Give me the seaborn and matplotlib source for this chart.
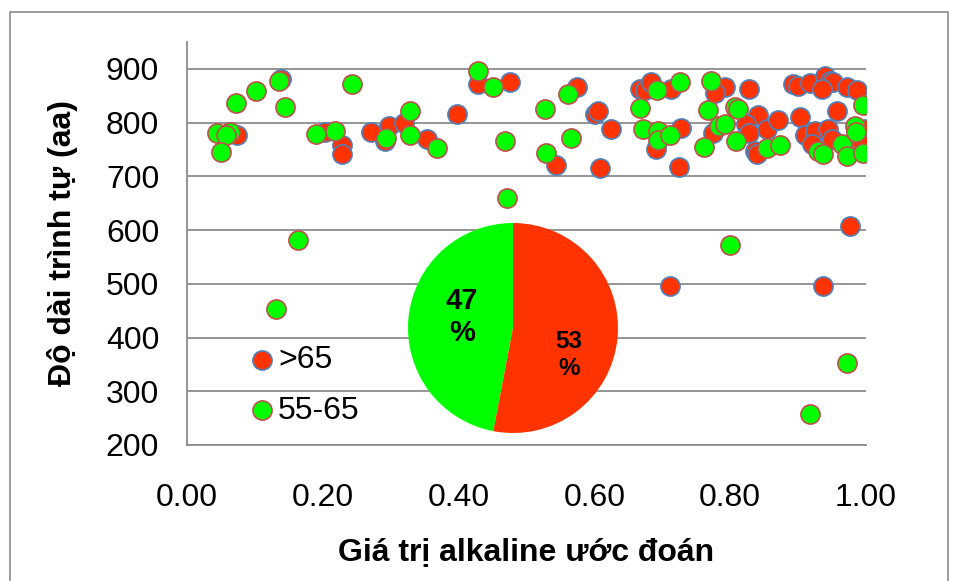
import matplotlib
matplotlib.use("Agg")
import matplotlib.pyplot as plt
from matplotlib.patches import Rectangle
import seaborn as sns
import pandas as pd

# Predicted alkaline value vs. sequence length, split by group
gt65_x = [0.073, 0.138, 0.203, 0.228, 0.228, 0.271, 0.292, 0.298, 0.319, 0.353,
          0.397, 0.428, 0.476, 0.544, 0.575, 0.601, 0.606, 0.608, 0.625, 0.667,
          0.675, 0.684, 0.691, 0.713, 0.727, 0.724, 0.792, 0.777, 0.775, 0.827,
          0.841, 0.824, 0.827, 0.854, 0.871, 0.837, 0.839, 0.893, 0.900, 0.918,
          0.940, 0.947, 0.952, 0.935, 0.972, 0.987, 0.903, 0.958, 0.910, 0.925,
          0.944, 0.998, 0.994, 0.711, 0.936, 0.977, 0.920, 0.950]
gt65_y = [776, 881, 782, 759, 741, 782, 766, 794, 799, 769,
          816, 871, 876, 721, 866, 816, 822, 715, 788, 863,
          860, 875, 751, 863, 790, 717, 866, 856, 780, 863,
          815, 797, 780, 788, 804, 748, 741, 872, 869, 873,
          886, 878, 875, 863, 866, 861, 810, 822, 776, 785,
          788, 788, 760, 495, 495, 608, 760, 770]

mid_x = [0.072, 0.102, 0.135, 0.145, 0.044, 0.063, 0.057, 0.050, 0.190, 0.243,
         0.218, 0.293, 0.329, 0.329, 0.368, 0.429, 0.450, 0.469, 0.472, 0.527,
         0.528, 0.561, 0.565, 0.692, 0.726, 0.667, 0.671, 0.694, 0.694, 0.711,
         0.772, 0.768, 0.783, 0.792, 0.761, 0.807, 0.812, 0.809, 0.854, 0.874,
         0.995, 0.930, 0.937, 0.964, 0.972, 0.984, 0.986, 0.996, 0.131, 0.163,
         0.800, 0.972, 0.918]
mid_y = [836, 858, 878, 829, 780, 782, 777, 746, 779, 871,
         785, 771, 821, 777, 752, 896, 866, 766, 660, 825,
         744, 853, 771, 860, 875, 827, 788, 785, 768, 776,
         878, 823, 794, 797, 755, 829, 825, 766, 752, 759,
         832, 748, 741, 760, 738, 794, 782, 743, 454, 581,
         573, 353, 258]

group_labels = [">65", "55-65"]
share_labels = ["47\n%", "53\n%"]
share_values = [47, 53]

RED, GREEN = "#FF3300", "#00FF00"

sns.set_style("white")
plt.rcParams["font.family"] = ["Liberation Sans", "DejaVu Sans"]
plt.rcParams.update({"text.color": "black", "axes.labelcolor": "black",
                     "xtick.color": "black", "ytick.color": "black"})

fig = plt.figure(figsize=(9.59, 5.81), dpi=100)
ax = fig.add_axes([187 / 959, 1 - 445 / 581, 679 / 959, 403 / 581])

df_hi = pd.DataFrame({"x": gt65_x, "y": gt65_y})
df_mid = pd.DataFrame({"x": mid_x, "y": mid_y})
sns.scatterplot(data=df_hi, x="x", y="y", ax=ax, s=190, color=RED,
                edgecolor="#4F81BD", linewidth=1.2, label=group_labels[0], zorder=3)
sns.scatterplot(data=df_mid, x="x", y="y", ax=ax, s=190, color=GREEN,
                edgecolor="#C0504D", linewidth=1.2, label=group_labels[1], zorder=4)

ax.set_xlim(0, 1)
ax.set_ylim(200, 950)
ax.set_xticks([0, 0.2, 0.4, 0.6, 0.8, 1.0])
ax.set_xticklabels([f"{v:.2f}" for v in [0, 0.2, 0.4, 0.6, 0.8, 1.0]])
ax.set_yticks(range(200, 901, 100))
ax.grid(axis="y", color="#8c8c8c", linewidth=1.3, zorder=0)
ax.grid(axis="x", visible=False)
ax.set_axisbelow(True)
for side in ["top", "right"]:
    ax.spines[side].set_visible(False)
for side in ["left", "bottom"]:
    ax.spines[side].set_color("#8c8c8c")
    ax.spines[side].set_linewidth(1.3)
ax.tick_params(axis="both", direction="out", length=7, width=1.3, color="#8c8c8c",
               labelsize=23, labelcolor="black")
ax.tick_params(axis="x", pad=20)
ax.tick_params(axis="y", pad=13)

ax.set_xlabel("Giá trị alkaline ước đoán", fontsize=23, fontweight="bold")
ax.set_ylabel("Độ dài trình tự (aa)", fontsize=23, fontweight="bold")
ax.xaxis.set_label_coords(0.5, -0.23)
ax.yaxis.set_label_coords(-0.16, 0.5)

leg = ax.legend(loc="center left", bbox_to_anchor=(59 / 679, (445 - 385.5) / 403),
                frameon=False, fontsize=23, handletextpad=0.0, handlelength=1.0,
                labelspacing=0.64, borderpad=0, borderaxespad=0, markerscale=1.0)

# Share of each group as an inset pie
pax = fig.add_axes([(513 - 105) / 959, 1 - (328 + 105) / 581, 210 / 959, 210 / 581])
wedges, _ = pax.pie(share_values, colors=[GREEN, RED], startangle=90,
                    counterclock=True, wedgeprops=dict(linewidth=0))
pax.set_xlim(-1, 1)
pax.set_ylim(-1, 1)
pax.set_aspect("equal")
pax.text(-0.486, 0.105, share_labels[0], ha="center", va="center", fontsize=21,
         fontweight="bold", linespacing=1.15)
pax.text(0.533, -0.257, share_labels[1], ha="center", va="center", fontsize=17.5,
         fontweight="bold", linespacing=1.2)

# Chart frame
fig.patches.append(Rectangle((10 / 959, -0.05), 938 / 959, 1 - 12 / 581 + 0.05,
                             transform=fig.transFigure, fill=False,
                             edgecolor="#8c8c8c", linewidth=1.2))

fig.savefig("out.png", dpi=100, facecolor="white")
